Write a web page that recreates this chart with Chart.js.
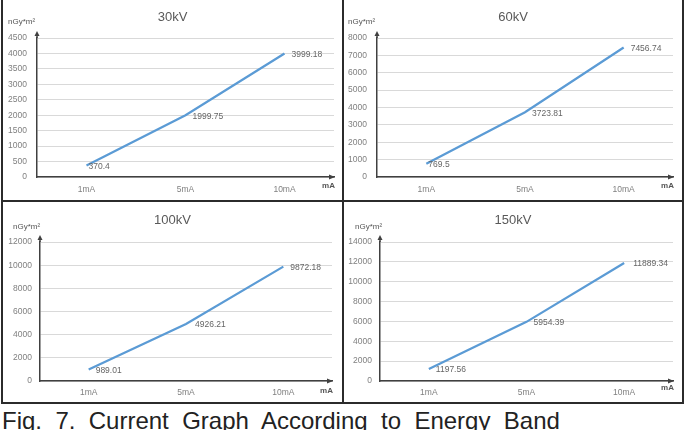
<!DOCTYPE html>
<html><head><meta charset="utf-8">
<script src="https://cdn.jsdelivr.net/npm/chart.js@4"></script>
<style>
html,body{margin:0;padding:0;background:#fff;width:689px;height:430px;overflow:hidden;position:relative;font-family:"Liberation Sans",Arial,sans-serif}
canvas{position:absolute}
.ln{position:absolute;background:#2b2b2b}
#cap{position:absolute;left:2px;top:409px;font-size:24px;line-height:24px;color:#222;word-spacing:6.7px;white-space:nowrap}
</style></head><body>
<div class="ln" style="left:1px;top:0;width:2px;height:404px"></div>
<div class="ln" style="left:342px;top:0;width:2px;height:404px"></div>
<div class="ln" style="left:682px;top:0;width:2px;height:404px"></div>
<div class="ln" style="left:1px;top:200px;width:683px;height:2px"></div>
<div class="ln" style="left:1px;top:402px;width:683px;height:2px"></div>
<canvas id="c1" width="339" height="200" style="left:3px;top:0"></canvas>
<canvas id="c2" width="338" height="200" style="left:344px;top:0"></canvas>
<canvas id="c3" width="339" height="200" style="left:3px;top:202px"></canvas>
<canvas id="c4" width="338" height="200" style="left:344px;top:202px"></canvas>
<div id="cap">Fig. 7. Current Graph According to Energy Band</div>
<script>
// ---- data ----
const currents = ['1mA', '5mA', '10mA'];
const dose30kV = [370.4, 1999.75, 3999.18];
const dose60kV = [769.5, 3723.81, 7456.74];
const dose100kV = [989.01, 4926.21, 9872.18];
const dose150kV = [1197.56, 5954.39, 11889.34];
const titles = ['30kV', '60kV', '100kV', '150kV'];
const yMax = [4500, 8000, 12000, 14000];
const yStep = [500, 1000, 2000, 2000];
const yUnit = 'nGy*m²';
const xUnit = 'mA';

const FONT = '"Liberation Sans", Arial, sans-serif';

const decor = {
  id: 'decor',
  afterDraw(chart, args, o) {
    const ctx = chart.ctx;
    const a = chart.chartArea;
    ctx.save();
    // title
    ctx.fillStyle = '#595959';
    ctx.font = '13px ' + FONT;
    ctx.textAlign = 'center';
    ctx.textBaseline = 'middle';
    ctx.fillText(o.title, chart.width / 2, o.titleY);
    // y axis arrow
    ctx.strokeStyle = '#404040';
    ctx.fillStyle = '#404040';
    ctx.lineWidth = 1.5;
    ctx.beginPath();
    ctx.moveTo(a.left, a.top);
    ctx.lineTo(a.left, a.top - 3);
    ctx.stroke();
    ctx.beginPath();
    ctx.moveTo(a.left, a.top - 7);
    ctx.lineTo(a.left - 2.5, a.top - 2);
    ctx.lineTo(a.left + 2.5, a.top - 2);
    ctx.closePath();
    ctx.fill();
    // x axis arrow
    ctx.beginPath();
    ctx.moveTo(a.right + 1, a.bottom);
    ctx.lineTo(a.right - 5, a.bottom - 2.5);
    ctx.lineTo(a.right - 5, a.bottom + 2.5);
    ctx.closePath();
    ctx.fill();
    // units
    ctx.fillStyle = '#555';
    ctx.font = '8px ' + FONT;
    ctx.textAlign = 'left';
    ctx.fillText(yUnit, o.yUnitX, o.yUnitY);
    ctx.font = 'bold 8px ' + FONT;
    ctx.textAlign = 'right';
    ctx.fillText(xUnit, a.right + 1, o.xUnitY);
    // data labels
    ctx.fillStyle = '#666';
    ctx.font = '8.5px ' + FONT;
    ctx.textAlign = 'left';
    const meta = chart.getDatasetMeta(0);
    const data = chart.data.datasets[0].data;
    meta.data.forEach((pt, i) => {
      ctx.fillText(String(data[i]), pt.x + o.offsets[i], pt.y + 1);
    });
    ctx.restore();
  }
};

function make(id, idx, values, geo) {
  const el = document.getElementById(id);
  return new Chart(el, {
    type: 'line',
    data: {
      labels: currents,
      datasets: [{
        data: values,
        borderColor: '#5b9bd5',
        borderWidth: 2.25,
        pointRadius: 0,
        tension: 0,
        fill: false
      }]
    },
    options: {
      responsive: false,
      animation: false,
      devicePixelRatio: 1,
      layout: { padding: { left: 0, top: geo.top, right: el.width - geo.right, bottom: 0 } },
      plugins: {
        legend: { display: false },
        tooltip: { enabled: false },
        title: { display: false },
        decor: geo.decor
      },
      scales: {
        x: {
          type: 'category',
          offset: true,
          grid: { display: false, drawTicks: false },
          border: { display: true, color: '#404040', width: 1.5 },
          ticks: { color: '#808080', font: { size: 8.5, family: FONT }, padding: geo.xPad, maxRotation: 0 },
          afterFit(s) { s.height = el.height - geo.bottom; }
        },
        y: {
          min: 0,
          max: yMax[idx],
          grid: { color: '#d9d9d9', lineWidth: 1, drawTicks: false },
          border: { display: true, color: '#404040', width: 1.5 },
          ticks: { stepSize: yStep[idx], color: '#808080', font: { size: 8.5, family: FONT }, padding: geo.yPad,
                   callback: v => String(v) },
          afterFit(s) { s.width = geo.left; }
        }
      }
    },
    plugins: [decor]
  });
}

make('c1', 0, dose30kV, { left: 34, right: 331, top: 38, bottom: 177, xPad: 8, yPad: 10,
  decor: { title: titles[0], titleY: 17, yUnitX: 5, yUnitY: 22, xUnitY: 186, offsets: [2, 7, 7] } });
make('c2', 1, dose60kV, { left: 33, right: 329, top: 38, bottom: 177, xPad: 8, yPad: 10,
  decor: { title: titles[1], titleY: 17, yUnitX: 4, yUnitY: 22, xUnitY: 186, offsets: [2, 7, 7] } });
make('c3', 2, dose100kV, { left: 37, right: 329, top: 40, bottom: 179, xPad: 7, yPad: 8,
  decor: { title: titles[2], titleY: 18, yUnitX: 10, yUnitY: 25, xUnitY: 189, offsets: [7, 9, 7] } });
make('c4', 3, dose150kV, { left: 36, right: 329, top: 40, bottom: 179, xPad: 7, yPad: 8,
  decor: { title: titles[3], titleY: 18, yUnitX: 11, yUnitY: 25, xUnitY: 186, offsets: [7, 7, 9] } });
</script>
</body></html>
